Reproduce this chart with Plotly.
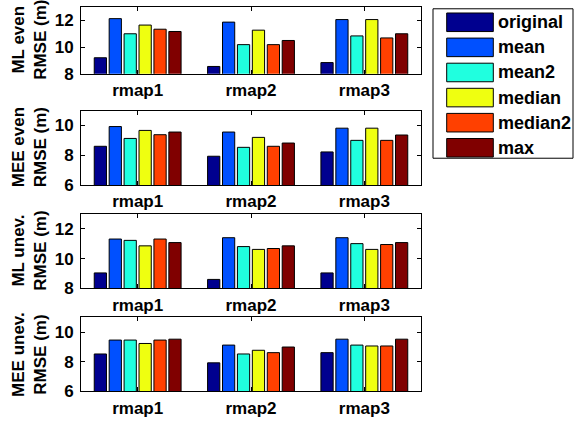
import plotly.graph_objects as go

categories = ["rmap1", "rmap2", "rmap3"]
series_names = ["original", "mean", "mean2", "median", "median2", "max"]
series_colors = ["#00008F", "#0050FF", "#20FFDF", "#EFFF10", "#FF4000", "#800000"]

# values per series (rows) across rmap1..rmap3 (columns)
ml_even = [
    [9.20, 8.55, 8.84],
    [12.12, 11.86, 12.05],
    [10.99, 10.18, 10.83],
    [11.64, 11.26, 12.05],
    [11.33, 10.18, 10.68],
    [11.16, 10.49, 10.99],
]
mee_even = [
    [8.60, 7.93, 8.22],
    [9.93, 9.56, 9.82],
    [9.13, 8.53, 9.00],
    [9.67, 9.20, 9.82],
    [9.38, 8.60, 9.00],
    [9.56, 8.82, 9.36],
]
ml_unev = [
    [9.03, 8.59, 9.03],
    [11.32, 11.41, 11.41],
    [11.23, 10.81, 11.01],
    [10.86, 10.62, 10.62],
    [11.32, 10.68, 10.95],
    [11.08, 10.86, 11.08],
]
mee_unev = [
    [8.53, 7.93, 8.62],
    [9.47, 9.13, 9.53],
    [9.47, 8.53, 9.13],
    [9.24, 8.78, 9.07],
    [9.47, 8.62, 9.07],
    [9.53, 9.00, 9.53],
]

panel_data = [ml_even, mee_even, ml_unev, mee_unev]
panel_labels = ["ML even<br>RMSE (m)", "MEE even<br>RMSE (m)",
                "ML unev.<br>RMSE (m)", "MEE unev.<br>RMSE (m)"]
panel_ranges = [[8, 13], [6, 11], [8, 13], [6, 11]]

W, H = 578, 430
FONT = "Liberation Sans, Arial, sans-serif"
TICK_SIZE = 17
LABEL_SIZE = 17
LEGEND_SIZE = 18
# pixel boxes of the four axes (top, bottom)
x_left, x_right = 81, 421
panel_px = [(7, 75.6), (113.3, 189.3), (219.3, 295.0), (325.0, 400.7)]

fig = go.Figure()
layout = dict(
    width=W, height=H,
    margin=dict(l=0, r=0, t=0, b=0),
    paper_bgcolor="white", plot_bgcolor="white",
    barmode="group", bargap=0.21, bargroupgap=0.18,
    showlegend=False,
    font=dict(family=FONT, size=TICK_SIZE, color="black"),
)
annotations = []
shapes = []

for p, data in enumerate(panel_data):
    idx = "" if p == 0 else str(p + 1)
    for s, name in enumerate(series_names):
        fig.add_trace(go.Bar(
            x=categories, y=data[s], name=name,
            marker=dict(color=series_colors[s], line=dict(color="black", width=1)),
            xaxis="x" + idx, yaxis="y" + idx,
            offsetgroup=str(s), showlegend=False,
        ))
    top, bot = panel_px[p]
    layout["xaxis" + idx] = dict(
        domain=[x_left / W, x_right / W], anchor="y" + idx,
        type="category", range=[-0.5, 2.5],
        showline=True, linecolor="black", linewidth=1, mirror="ticks",
        ticks="inside", ticklen=4, tickcolor="black", showgrid=False,
        tickfont=dict(family=FONT, size=TICK_SIZE, color="black", weight="bold"),
        ticklabelstandoff=1,
        fixedrange=True,
    )
    layout["yaxis" + idx] = dict(
        domain=[1 - bot / H, 1 - top / H], anchor="x" + idx,
        range=panel_ranges[p], dtick=2,
        showline=True, linecolor="black", linewidth=1, mirror="ticks",
        ticks="inside", ticklen=4, tickcolor="black", showgrid=False, zeroline=False,
        tickfont=dict(family=FONT, size=TICK_SIZE, color="black", weight="bold"),
        ticklabelstandoff=3,
        fixedrange=True,
    )
    annotations.append(dict(
        text=panel_labels[p], textangle=-90, showarrow=False,
        xref="paper", yref="paper", x=29.5 / W, y=1 - (top + bot) / 2 / H,
        xanchor="center", yanchor="middle",
        font=dict(family=FONT, size=LABEL_SIZE, color="black", weight="bold"),
    ))

# legend box (custom, with wide swatches)
lx0, lx1, ly0, ly1 = 433, 573, 9, 162
shapes.append(dict(type="rect", xref="paper", yref="paper",
                   x0=lx0 / W, x1=lx1 / W, y0=1 - ly1 / H, y1=1 - ly0 / H,
                   line=dict(color="black", width=1), fillcolor="white", layer="below"))
for s, name in enumerate(series_names):
    t = 13.3 + s * 25.7
    shapes.append(dict(type="rect", xref="paper", yref="paper",
                       x0=446.7 / W, x1=493.3 / W, y0=1 - (t + 19) / H, y1=1 - t / H,
                       line=dict(color="black", width=1), fillcolor=series_colors[s]))
    annotations.append(dict(
        text=name, showarrow=False, xref="paper", yref="paper",
        x=495.5 / W, y=1 - (t + 9.5) / H, xanchor="left", yanchor="middle",
        font=dict(family=FONT, size=LEGEND_SIZE, color="black", weight="bold"),
    ))

layout["annotations"] = annotations
layout["shapes"] = shapes
fig.update_layout(**layout)
fig.write_html("out.html", config={"displayModeBar": False},
               post_script="document.body.style.margin='0';")
